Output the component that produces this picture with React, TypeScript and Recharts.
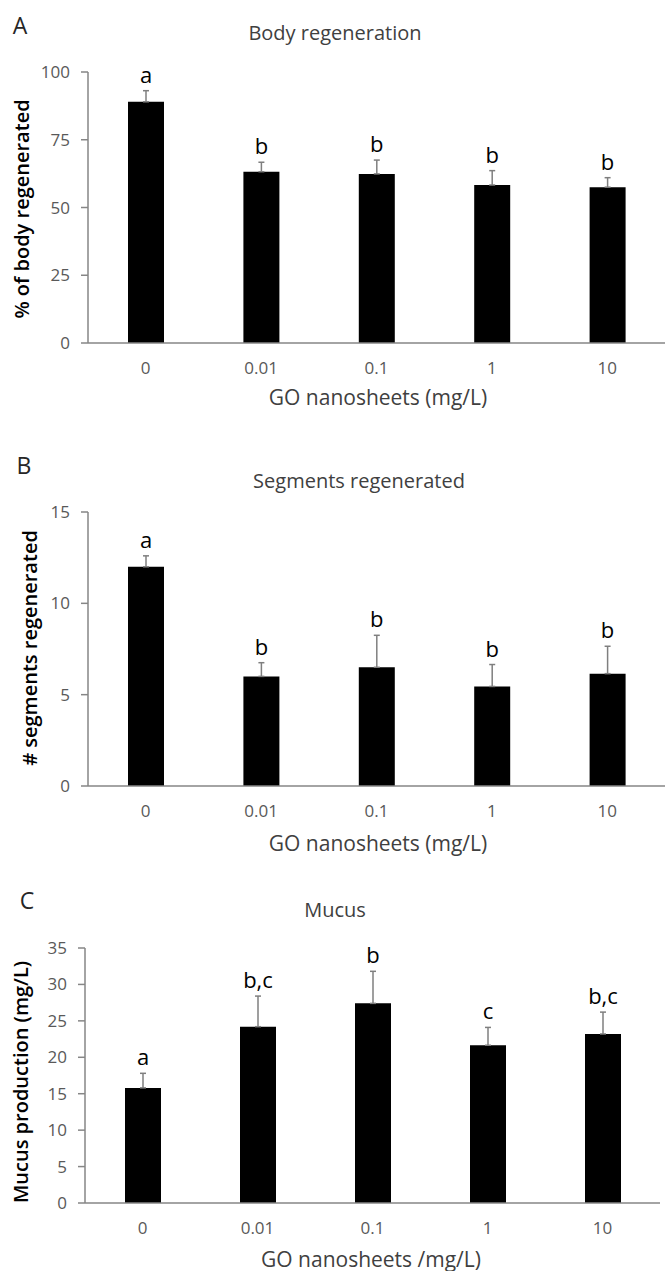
import React from "react";
import { BarChart, Bar, XAxis, YAxis, ErrorBar, LabelList } from "recharts";

const CATS = ["0", "0.01", "0.1", "1", "10"];

const BODY = [89.0, 63.2, 62.4, 58.3, 57.5];
const BODY_SD = [4.1, 3.5, 5.1, 5.3, 3.5];
const BODY_LET = ["a", "b", "b", "b", "b"];
const BODY_TICKS = [0, 25, 50, 75, 100];

const SEG = [12.0, 6.0, 6.5, 5.45, 6.15];
const SEG_SD = [0.6, 0.75, 1.75, 1.2, 1.5];
const SEG_LET = ["a", "b", "b", "b", "b"];
const SEG_TICKS = [0, 5, 10, 15];

const MUC = [15.8, 24.2, 27.4, 21.65, 23.2];
const MUC_SD = [2.0, 4.2, 4.4, 2.45, 3.0];
const MUC_LET = ["a", "b,c", "b", "c", "b,c"];
const MUC_TICKS = [0, 5, 10, 15, 20, 25, 30, 35];

const FONT = "'Open Sans', sans-serif";
const AXIS = "#868686";
const TICK = "#595959";

function rows(vals: number[], sd: number[], letters: string[]) {
  return CATS.map((c, i) => ({ cat: c, v: vals[i], err: [0, sd[i]], letter: letters[i] }));
}

// letter sits just above the top of the error bar
const letterContent = (vals: number[], sd: number[]) => (p: any) => {
  const vb = p.viewBox || {};
  const x = p.x ?? vb.x;
  const y = p.y ?? vb.y;
  const w = p.width ?? vb.width;
  const h = Math.abs(p.height ?? vb.height);
  const i = p.index ?? 0;
  const errTop = y - (h * sd[i]) / vals[i];
  return (
    <text x={x + w / 2} y={errTop - 8} textAnchor="middle" fontSize={22} fontFamily={FONT} fill="#000">
      {p.value}
    </text>
  );
};

function Txt({ x, y, size, children, rot, weight, color }: any) {
  return (
    <div
      style={{
        position: "absolute", left: x, top: y, fontSize: size, fontFamily: FONT, lineHeight: 1,
        whiteSpace: "nowrap", color: color || "#404040", fontWeight: weight || 400,
        transform: `translate(-50%,-50%)${rot ? " rotate(-90deg)" : ""}`,
      }}
    >
      {children}
    </div>
  );
}

function Panel({ top, height, plotTop, xH, yW, right, vals, sd, letters, ticks }: any) {
  const data = rows(vals, sd, letters);
  const max = ticks[ticks.length - 1];
  return (
    <div style={{ position: "absolute", left: 0, top }}>
      <BarChart width={665} height={height} data={data} margin={{ top: plotTop, right, bottom: 0, left: 0 }}>
        <XAxis
          dataKey="cat" height={xH} tickSize={0} tickMargin={19} tickLine={false}
          axisLine={{ stroke: AXIS, strokeWidth: 1.5 }}
          tick={{ fill: TICK, fontSize: 17, fontFamily: FONT }}
        />
        <YAxis
          width={yW} domain={[0, max]} ticks={ticks} interval={0} tickSize={7} tickMargin={11}
          axisLine={{ stroke: AXIS, strokeWidth: 1.5 }} tickLine={{ stroke: AXIS, strokeWidth: 1.5 }}
          tick={{ fill: TICK, fontSize: 17, fontFamily: FONT }}
        />
        <Bar dataKey="v" fill="#000" barSize={36} isAnimationActive={false}>
          <ErrorBar dataKey="err" width={3} stroke="#7f7f7f" strokeWidth={1.5} direction="y" isAnimationActive={false} />
          <LabelList dataKey="letter" content={letterContent(vals, sd)} />
        </Bar>
      </BarChart>
    </div>
  );
}

export default function App() {
  return (
    <div style={{ position: "absolute", left: 0, top: 0, width: 665, height: 1271, background: "#fff", overflow: "hidden" }}>
      <Panel top={0} height={390} plotTop={72} xH={47} yW={88} right={0}
        vals={BODY} sd={BODY_SD} letters={BODY_LET} ticks={BODY_TICKS} />
      <Panel top={440} height={390} plotTop={72} xH={44} yW={88} right={0}
        vals={SEG} sd={SEG_SD} letters={SEG_LET} ticks={SEG_TICKS} />
      <Panel top={880} height={370} plotTop={68} xH={47} yW={85} right={5}
        vals={MUC} sd={MUC_SD} letters={MUC_LET} ticks={MUC_TICKS} />

      <Txt x={20} y={25} size={23} color="#262626">A</Txt>
      <Txt x={335} y={33} size={20}>Body regeneration</Txt>
      <Txt x={22} y={209} size={20} rot weight={600} color="#000">% of body regenerated</Txt>
      <Txt x={378} y={397} size={21}>GO nanosheets (mg/L)</Txt>

      <Txt x={24} y={465} size={23} color="#262626">B</Txt>
      <Txt x={359} y={481} size={20}>Segments regenerated</Txt>
      <Txt x={30} y={648} size={20} rot weight={600} color="#000"># segments regenerated</Txt>
      <Txt x={378} y={843} size={21}>GO nanosheets (mg/L)</Txt>

      <Txt x={27} y={900} size={23} color="#262626">C</Txt>
      <Txt x={335} y={910} size={20}>Mucus</Txt>
      <Txt x={21} y={1082} size={20} rot weight={600} color="#000">Mucus production (mg/L)</Txt>
      <Txt x={371} y={1259} size={21}>GO nanosheets /mg/L)</Txt>
    </div>
  );
}
